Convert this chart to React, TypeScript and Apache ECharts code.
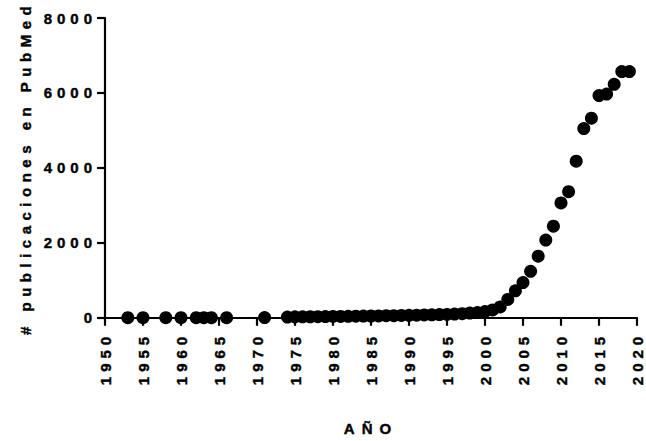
import React, { useEffect, useRef } from "react";
import * as echarts from "echarts";

const years = [
  1953, 1955, 1958, 1960, 1962, 1963, 1964, 1966, 1971,
  1974, 1975, 1976, 1977, 1978, 1979, 1980, 1981, 1982, 1983, 1984,
  1985, 1986, 1987, 1988, 1989, 1990, 1991, 1992, 1993, 1994, 1995,
  1996, 1997, 1998, 1999, 2000, 2001, 2002, 2003, 2004, 2005, 2006,
  2007, 2008, 2009, 2010, 2011, 2012, 2013, 2014, 2015, 2016, 2017,
  2018, 2019,
];
const publications = [
  2, 2, 2, 2, 3, 3, 3, 3, 5,
  20, 25, 25, 28, 30, 32, 35, 38, 40, 42, 45,
  48, 50, 55, 58, 62, 65, 70, 75, 80, 85, 90,
  100, 110, 125, 140, 165, 210, 290, 490, 720, 940, 1240,
  1645, 2075, 2445, 3065, 3365, 4180, 5050, 5325, 5930, 5970, 6230,
  6570, 6570,
];
const xTitle = "AÑO";
const yTitle = "# publicaciones en PubMed";

const FONT = "'Liberation Sans', Arial, sans-serif";
const txt = {
  fontFamily: FONT,
  fontWeight: "bold",
  fontSize: 15,
  color: "#000",
  textBorderColor: "#000",
  textBorderWidth: 0.4,
};

export default function App() {
  const ref = useRef<HTMLDivElement>(null);
  useEffect(() => {
    if (!ref.current) return;
    const chart = echarts.init(ref.current, undefined, { renderer: "svg" });
    chart.setOption({
      animation: false,
      backgroundColor: "#ffffff",
      grid: { left: 105, right: 9, top: 18, bottom: 113, containLabel: false },
      xAxis: {
        type: "value",
        min: 1950,
        max: 2020,
        interval: 5,
        name: xTitle,
        nameLocation: "middle",
        nameGap: 103,
        nameTextStyle: { ...txt },
        axisLine: { show: true, lineStyle: { color: "#000", width: 2.2 } },
        axisTick: { show: true, length: 8, lineStyle: { color: "#000", width: 2.2 } },
        axisLabel: {
          ...txt,
          rotate: 90,
          margin: 14,
          formatter: (v: number) => String(v),
        },
        splitLine: { show: false },
      },
      yAxis: {
        type: "value",
        min: 0,
        max: 8000,
        interval: 2000,
        name: yTitle,
        nameLocation: "middle",
        nameGap: 72,
        nameTextStyle: { ...txt },
        axisLine: { show: true, lineStyle: { color: "#000", width: 2.2 } },
        axisTick: { show: true, length: 8, lineStyle: { color: "#000", width: 2.2 } },
        axisLabel: {
          ...txt,
          margin: 8,
          formatter: (v: number) => String(v),
        },
        splitLine: { show: false },
      },
      series: [
        {
          type: "scatter",
          symbol: "circle",
          symbolSize: 13,
          itemStyle: { color: "#000", opacity: 1 },
          data: years.map((y, i) => [y, publications[i]]),
        },
      ],
    });
    const texts = ref.current.querySelectorAll("text");
    texts.forEach((t) => {
      const s = t.textContent || "";
      if (s === yTitle) t.setAttribute("letter-spacing", "5.5");
      else if (s === xTitle) t.setAttribute("letter-spacing", "7");
      else t.setAttribute("letter-spacing", "5");
    });
    return () => chart.dispose();
  }, []);
  return (
    <div
      ref={ref}
      style={{ position: "fixed", left: 0, top: 0, width: 646, height: 441 }}
    />
  );
}
